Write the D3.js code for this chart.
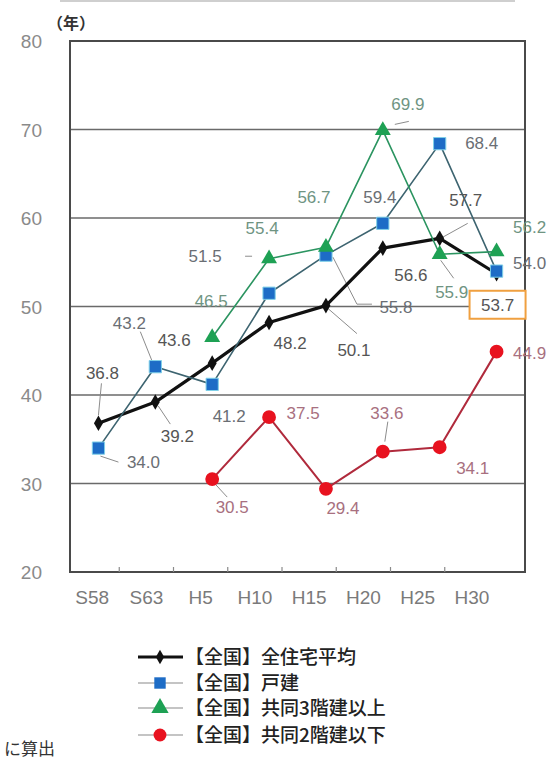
<!DOCTYPE html>
<html>
<head>
<meta charset="utf-8">
<script src="https://cdn.jsdelivr.net/npm/d3@7/dist/d3.min.js"></script>
<style>
  html, body { margin: 0; padding: 0; background: #fff; }
  svg { display: block; }
</style>
</head>
<body>
<svg id="chart" width="549" height="760"></svg>
<script>
// Survey years (Showa / Heisei)
const years = ["S58", "S63", "H5", "H10", "H15", "H20", "H25", "H30"];

// Average age of demolished dwellings (years)
const allHousing   = [36.8, 39.2, 43.6, 48.2, 50.1, 56.6, 57.7, 53.7];
const detached     = [34.0, 43.2, 41.2, 51.5, 55.8, 59.4, 68.4, 54.0];
const multi3Plus   = [null, null, 46.5, 55.4, 56.7, 69.9, 55.9, 56.2];
const multi2Below  = [null, null, 30.5, 37.5, 29.4, 33.6, 34.1, 44.9];

const seriesNames = [
  "【全国】全住宅平均",
  "【全国】戸建",
  "【全国】共同3階建以上",
  "【全国】共同2階建以下"
];

const yTicks = [20, 30, 40, 50, 60, 70, 80];
const gridValues = [30, 40, 50, 60, 70];

// ---- layout ----
const plot = { left: 70, right: 525, top: 41, bottom: 572 };

const svg = d3.select("#chart");

const x = d3.scalePoint().domain(years).range([plot.left, plot.right]).padding(0.5);
const xLabel = d3.scaleBand().domain(years).range([65, 499]);
const y = d3.scaleLinear().domain([20, 80]).range([plot.bottom, plot.top]);

// label placement relative to each point: [dx, dy]
const styles = [
  { key: "all", values: allHousing, line: "#111", width: 3.2, marker: "diamond", fill: "#111", size: 70, label: "#555",
    offsets: [[4,-50],[22,34],[-38,-23],[21,20],[28,44],[28,27],[26,-38],[1,31]] },
  { key: "det", values: detached, line: "#3d6470", width: 1.6, marker: "square", fill: "#1d6cc6", size: 150, label: "#6a6e74",
    offsets: [[45,14],[-26,-44],[17,31],[-64,-37],[70,52],[-3,-26],[42,-1],[33,-8]] },
  { key: "m3", values: multi3Plus, line: "#2b9460", width: 1.6, marker: "triangle", fill: "#1ea154", size: 110, label: "#6f9482",
    offsets: [null,null,[-1,-37],[-7,-31],[-12,-50],[25,-27],[12,38],[33,-25]] },
  { key: "m2", values: multi2Below, line: "#b02a3c", width: 2, marker: "circle", fill: "#e8121f", size: 150, label: "#a87080",
    offsets: [null,null,[20,28],[34,-4],[17,19],[4,-39],[33,21],[33,1]] }
];

const symbolType = {
  diamond: d3.symbolDiamond,
  square: d3.symbolSquare,
  triangle: d3.symbolTriangle,
  circle: d3.symbolCircle
};

// faint rule at the very top
svg.append("line")
  .attr("x1", 60).attr("x2", 515).attr("y1", 1).attr("y2", 1)
  .attr("stroke", "#cfcfcf").attr("stroke-width", 2);

// horizontal grid lines
svg.append("g").selectAll("line").data(gridValues).join("line")
  .attr("x1", plot.left).attr("x2", plot.right)
  .attr("y1", d => y(d)).attr("y2", d => y(d))
  .attr("stroke", "#6a6a6a").attr("stroke-width", 1.6);

// plot frame
svg.append("rect")
  .attr("x", plot.left).attr("y", plot.top)
  .attr("width", plot.right - plot.left).attr("height", plot.bottom - plot.top)
  .attr("fill", "none").attr("stroke", "#4a4a4a").attr("stroke-width", 2);

// y axis labels
const yAxis = d3.axisLeft(y).tickValues(yTicks).tickSize(0).tickPadding(0).tickFormat(d3.format("d"));
const yg = svg.append("g").attr("transform", "translate(42,0)").call(yAxis);
yg.select(".domain").remove();
yg.selectAll("text")
  .attr("font-family", "Liberation Sans, Arial, sans-serif")
  .attr("font-size", 19).attr("fill", "#8a8a8a").attr("dy", "0.36em");

// x axis labels with small boundary ticks
const xAxis = d3.axisBottom(xLabel).tickSize(0).tickPadding(0);
const xg = svg.append("g").attr("transform", `translate(0,${plot.bottom + 19})`).call(xAxis);
xg.select(".domain").remove();
xg.selectAll("text")
  .attr("font-family", "Liberation Sans, Arial, sans-serif")
  .attr("font-size", 19).attr("fill", "#7a7a7a").attr("dy", "0.7em");

svg.append("g").selectAll("line").data(years.slice(1)).join("line")
  .attr("x1", d => xLabel(d)).attr("x2", d => xLabel(d))
  .attr("y1", plot.bottom).attr("y2", plot.bottom - 5)
  .attr("stroke", "#8a8a8a").attr("stroke-width", 1.2);

// unit label
svg.append("text")
  .attr("x", 47).attr("y", 29)
  .attr("font-family", "Noto Sans CJK JP, sans-serif")
  .attr("font-size", 16).attr("font-weight", 700).attr("fill", "#333")
  .text("（年）");

// series lines
const lineGen = d3.line()
  .defined(d => d.v !== null)
  .x(d => x(d.year)).y(d => y(d.v));

const seriesData = styles.map(s => ({
  ...s,
  pts: years.map((yr, i) => ({ year: yr, v: s.values[i], off: s.offsets[i] }))
}));

// leader lines: [series index, point index, polyline offsets from the point]
const leaders = [
  [0, 0, [[0,-8],[3,-40]]],
  [0, 1, [[3,4],[15,22]]],
  [1, 1, [[-15,-35],[-3,-5]]],
  [1, 0, [[2,8],[20,14]]],
  [0, 4, [[1,2],[31,28]]],
  [1, 4, [[7,2],[31,49],[46,49]]],
  [3, 2, [[3,5],[15,18]]],
  [3, 5, [[2,-10],[5,-30]]],
  [0, 6, [[1,0],[28,-15]]],
  [2, 6, [[1,6],[14,24]]],
  [1, 3, [[-24,-37],[-17,-37]]],
  [2, 5, [[12,-6],[26,-9]]]
];

svg.append("g").selectAll("polyline").data(leaders).join("polyline")
  .attr("points", d => {
    const s = seriesData[d[0]];
    const p = s.pts[d[1]];
    const px = x(p.year), py = y(p.v);
    return d[2].map(o => `${px + o[0]},${py + o[1]}`).join(" ");
  })
  .attr("fill", "none").attr("stroke", "#8c8c8c").attr("stroke-width", 1);

const gSeries = svg.append("g");
seriesData.forEach(s => {
  gSeries.append("path")
    .datum(s.pts)
    .attr("d", lineGen)
    .attr("fill", "none")
    .attr("stroke", s.line)
    .attr("stroke-width", s.width)
    .attr("stroke-linejoin", "round");
});
seriesData.forEach(s => {
  gSeries.append("g").selectAll("path")
    .data(s.pts.filter(d => d.v !== null))
    .join("path")
    .attr("transform", d => `translate(${x(d.year)},${y(d.v)})`)
    .attr("d", d3.symbol().type(symbolType[s.marker]).size(s.size))
    .attr("fill", s.fill)
    .attr("stroke", s.marker === "square" ? "#7fd0e8" : "none")
    .attr("stroke-width", s.marker === "square" ? 1 : 0);
});

// value labels
seriesData.forEach(s => {
  svg.append("g").selectAll("text")
    .data(s.pts.filter(d => d.v !== null && !(s.key === "all" && d.year === "H30")))
    .join("text")
    .attr("x", d => x(d.year) + d.off[0])
    .attr("y", d => y(d.v) + d.off[1])
    .attr("text-anchor", "middle")
    .attr("dy", "0.36em")
    .attr("font-family", "Liberation Sans, Arial, sans-serif")
    .attr("font-size", 17)
    .attr("fill", s.label)
    .text(d => d3.format(".1f")(d.v));
});

// highlighted latest average value
const last = seriesData[0].pts[7];
const bx = x(last.year) + last.off[0], by = y(last.v) + last.off[1];
svg.append("rect")
  .attr("x", bx - 28).attr("y", by - 14)
  .attr("width", 56).attr("height", 28)
  .attr("fill", "#fff").attr("stroke", "#f0a040").attr("stroke-width", 2);
svg.append("text")
  .attr("x", bx).attr("y", by).attr("dy", "0.36em")
  .attr("text-anchor", "middle")
  .attr("font-family", "Liberation Sans, Arial, sans-serif")
  .attr("font-size", 17).attr("fill", "#555")
  .text(d3.format(".1f")(last.v));

// legend
const legendRows = [657, 683, 708, 735];
const lg = svg.append("g");
seriesData.forEach((s, i) => {
  const ly = legendRows[i];
  lg.append("line")
    .attr("x1", 138).attr("x2", 183).attr("y1", ly).attr("y2", ly)
    .attr("stroke", i === 0 ? "#111" : "#8a8a8a")
    .attr("stroke-width", i === 0 ? 3.2 : 1.2);
  lg.append("path")
    .attr("transform", `translate(160,${ly})`)
    .attr("d", d3.symbol().type(symbolType[s.marker]).size(i === 0 ? 60 : 130))
    .attr("fill", s.fill);
  lg.append("text")
    .attr("x", 185).attr("y", ly).attr("dy", "0.36em")
    .attr("font-family", "Noto Sans CJK JP, sans-serif")
    .attr("font-size", 19).attr("font-weight", 500).attr("fill", "#222")
    .text(seriesNames[i]);
});

// source note
svg.append("text")
  .attr("x", 4).attr("y", 749).attr("dy", "0.36em")
  .attr("font-family", "Noto Sans CJK JP, sans-serif")
  .attr("font-size", 17).attr("fill", "#333")
  .text("に算出");
</script>
</body>
</html>
